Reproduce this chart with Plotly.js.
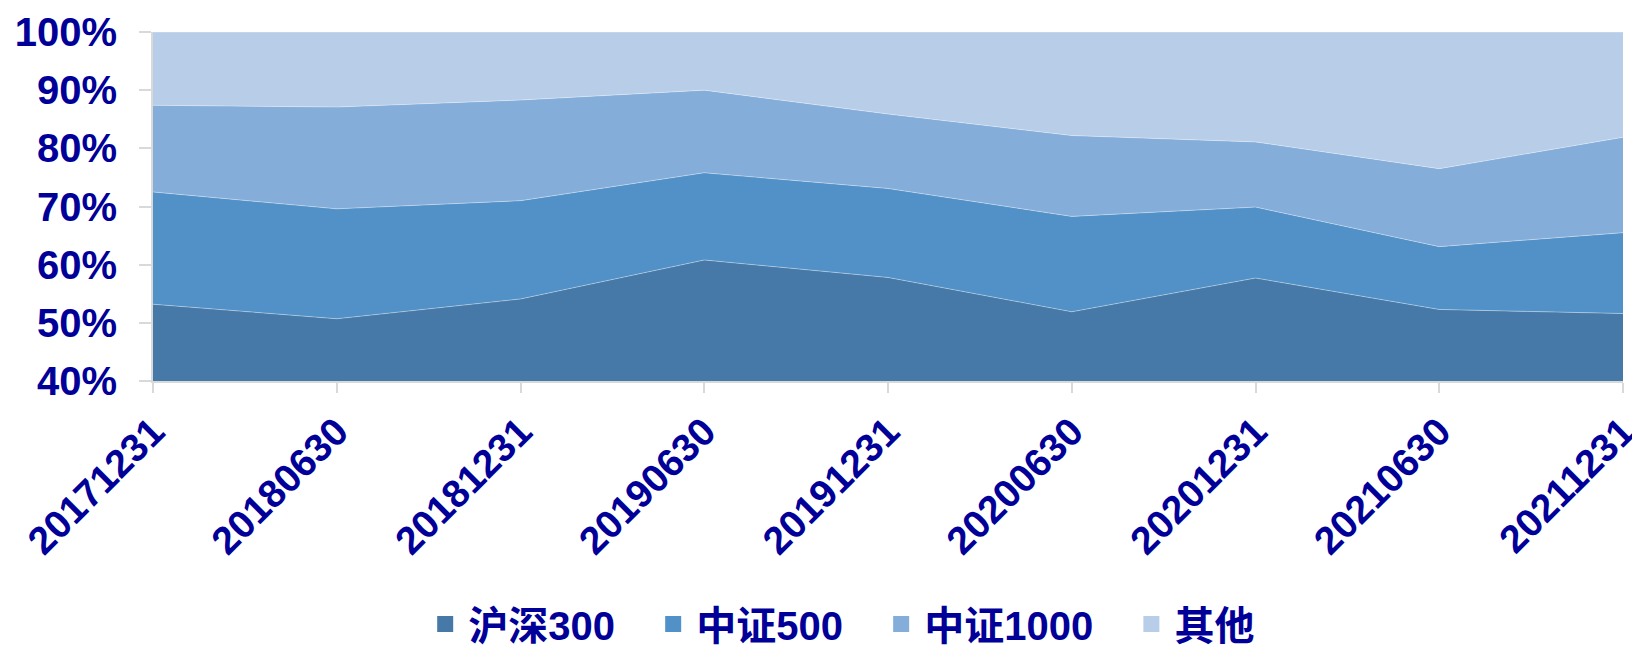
<!DOCTYPE html>
<html>
<head>
<meta charset="utf-8">
<script src="https://cdn.plot.ly/plotly-3.0.1.min.js"></script>
<style>html,body{margin:0;padding:0;background:#fff;}#chart{width:1632px;height:651px;}</style>
</head>
<body>
<div id="chart"></div>
<script>
var dates = ["20171231","20180630","20181231","20190630","20191231","20200630","20201231","20210630","20211231"];
var seriesNames = ["沪深300","中证500","中证1000","其他"];
var hs300 = [53.2, 50.7, 54.1, 60.8, 57.8, 51.9, 57.7, 52.3, 51.6];
var zz500 = [19.3, 18.9, 16.9, 15.0, 15.3, 16.4, 12.2, 10.8, 13.9];
var zz1000 = [14.9, 17.5, 17.3, 14.2, 12.8, 13.9, 11.2, 13.4, 16.4];
var others = [12.6, 12.9, 11.7, 10.0, 14.1, 17.8, 18.9, 23.5, 18.1];
var yTickVals = [40, 50, 60, 70, 80, 90, 100];
var yTickText = ["40%","50%","60%","70%","80%","90%","100%"];

var colors = ["#4679A8", "#5291C7", "#84ADDA", "#B8CDE8"];
var allSeries = [hs300, zz500, zz1000, others];
var textColor = "#000099";
var fontFam = "Liberation Sans, Arial, Noto Sans CJK SC, sans-serif";

var traces = allSeries.map(function(s, i){
  return {
    type: "scatter",
    mode: "lines",
    x: dates,
    y: s,
    name: seriesNames[i],
    stackgroup: "one",
    fillcolor: colors[i],
    line: {color: "rgba(255,255,255,0.35)", width: 1},
    showlegend: false,
    hoverinfo: "x+y+name"
  };
});
// legend entries (square swatches); padding keeps the gaps between entries
var legendPad = "\u00a0\u00a0\u2009";
seriesNames.forEach(function(n, i){
  traces.push({
    type: "scatter",
    mode: "markers",
    x: [null],
    y: [null],
    name: i < seriesNames.length - 1 ? n + legendPad : n,
    marker: {symbol: "square", size: 21, color: colors[i]},
    showlegend: true,
    hoverinfo: "skip"
  });
});

var layout = {
  width: 1632,
  height: 651,
  margin: {l: 153, r: 9, t: 32, b: 270},
  paper_bgcolor: "#ffffff",
  plot_bgcolor: "#ffffff",
  showlegend: true,
  legend: {
    orientation: "h",
    xref: "container", yref: "container",
    x: 0.2587, xanchor: "left",
    y: 0.0415, yanchor: "middle",
    font: {family: "Liberation Sans, Noto Sans CJK SC, sans-serif", size: 40, color: textColor, weight: "bold"},
    traceorder: "normal",
    itemwidth: 36
  },
  xaxis: {
    type: "category",
    range: [0, dates.length - 1],
    automargin: false,
    showline: true,
    linecolor: "#d9d9d9",
    linewidth: 2,
    ticks: "outside",
    ticklen: 10,
    tickwidth: 2,
    tickcolor: "#d9d9d9",
    tickangle: -45,
    showgrid: false,
    zeroline: false,
    tickfont: {family: fontFam, size: 39, color: textColor, weight: "bold"}
  },
  yaxis: {
    range: [40, 100],
    automargin: false,
    tickvals: yTickVals,
    ticktext: yTickText,
    showline: true,
    linecolor: "#d9d9d9",
    linewidth: 2,
    ticks: "outside",
    ticklen: 12,
    tickwidth: 2,
    tickcolor: "#d9d9d9",
    ticklabelstandoff: 14,
    showgrid: false,
    zeroline: false,
    tickfont: {family: fontFam, size: 40, color: textColor, weight: "bold"}
  }
};

Plotly.newPlot("chart", traces, layout, {displayModeBar: false, staticPlot: true});
</script>
</body>
</html>
